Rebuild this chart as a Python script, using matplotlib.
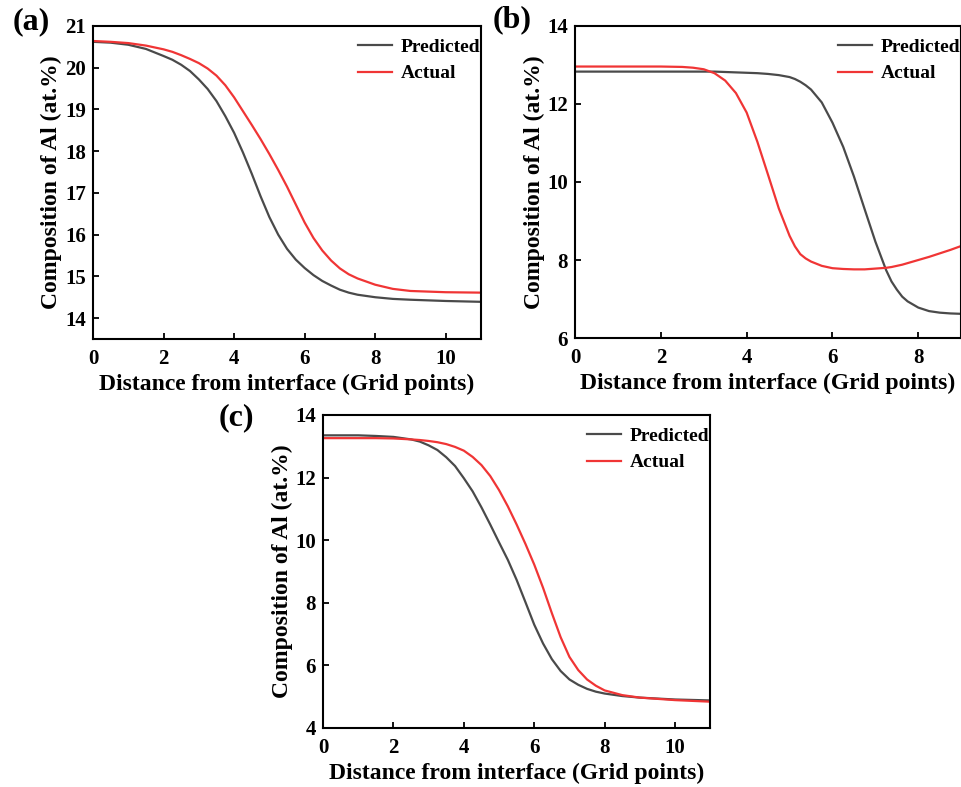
import matplotlib.pyplot as plt

plt.rcParams['font.family'] = ['Liberation Serif', 'DejaVu Serif']
plt.rcParams['font.weight'] = 'bold'

# panel (a)
xA = [0, 0.5, 1, 1.5, 2, 2.25, 2.5, 2.75, 3, 3.25, 3.5, 3.75, 4, 4.25, 4.5, 4.75, 5, 5.25, 5.5,
      5.75, 6, 6.25, 6.5, 6.75, 7, 7.25, 7.5, 8, 8.5, 9, 10, 11]
predA = [20.62, 20.6, 20.55, 20.45, 20.28, 20.19, 20.07, 19.92, 19.72, 19.49, 19.2, 18.84, 18.44,
         17.97, 17.46, 16.92, 16.42, 16.0, 15.66, 15.4, 15.2, 15.03, 14.89, 14.78, 14.68, 14.61,
         14.56, 14.5, 14.46, 14.44, 14.41, 14.39]
actA = [20.64, 20.62, 20.59, 20.53, 20.44, 20.38, 20.3, 20.21, 20.11, 19.98, 19.81, 19.58, 19.29,
        18.96, 18.63, 18.29, 17.93, 17.55, 17.15, 16.72, 16.29, 15.92, 15.62, 15.38, 15.19, 15.05,
        14.95, 14.8, 14.7, 14.65, 14.62, 14.61]

# panel (b)
xB = [0, 0.5, 1, 1.5, 2, 2.5, 2.75, 3, 3.25, 3.5, 3.75, 4, 4.25, 4.5, 4.75, 5, 5.125, 5.25, 5.375,
      5.5, 5.75, 6, 6.25, 6.5, 6.75, 7, 7.25, 7.375, 7.5, 7.625, 7.75, 8, 8.25, 8.5, 8.75, 9]
predB = [12.83, 12.83, 12.83, 12.83, 12.83, 12.83, 12.83, 12.83, 12.83, 12.82, 12.81, 12.8, 12.79,
         12.77, 12.74, 12.69, 12.64, 12.57, 12.48, 12.37, 12.04, 11.52, 10.9, 10.14, 9.3, 8.47,
         7.74, 7.45, 7.24, 7.06, 6.94, 6.78, 6.69, 6.65, 6.63, 6.62]
actB = [12.96, 12.96, 12.96, 12.96, 12.96, 12.95, 12.93, 12.89, 12.79, 12.6, 12.28, 11.78, 11.03,
        10.18, 9.32, 8.62, 8.35, 8.15, 8.04, 7.96, 7.85, 7.79, 7.77, 7.76, 7.76, 7.78, 7.8, 7.82,
        7.85, 7.88, 7.92, 8.0, 8.08, 8.17, 8.26, 8.36]

# panel (c)
xC = [0, 0.5, 1, 1.5, 2, 2.5, 2.75, 3, 3.25, 3.5, 3.75, 4, 4.25, 4.5, 4.75, 5, 5.25, 5.5, 5.75,
      6, 6.25, 6.5, 6.75, 7, 7.25, 7.5, 7.75, 8, 8.5, 9, 10, 11]
predC = [13.35, 13.35, 13.35, 13.33, 13.3, 13.22, 13.15, 13.03, 12.88, 12.65, 12.37, 11.98, 11.56,
         11.05, 10.5, 9.93, 9.37, 8.73, 8.02, 7.3, 6.7, 6.2, 5.82, 5.55, 5.38, 5.25, 5.16, 5.1,
         5.02, 4.97, 4.91, 4.88]
actC = [13.26, 13.26, 13.26, 13.26, 13.25, 13.22, 13.2, 13.17, 13.13, 13.07, 12.98, 12.86, 12.66,
        12.4, 12.05, 11.6, 11.08, 10.5, 9.88, 9.22, 8.48, 7.67, 6.9, 6.27, 5.85, 5.55, 5.35, 5.2,
        5.05, 4.97, 4.89, 4.84]

panels = [
    ('(a)', xA, predA, actA, (0, 11), (13.5, 21), [0, 2, 4, 6, 8, 10], [14, 15, 16, 17, 18, 19, 20, 21],
     [0.0967, 0.5693, 0.4033, 0.3977], (-0.206, 1.013)),
    ('(b)', xB, predB, actB, (0, 9), (6, 14), [0, 2, 4, 6, 8], [6, 8, 10, 12, 14],
     [0.5977, 0.5705, 0.4015, 0.3965], (-0.212, 1.02)),
    ('(c)', xC, predC, actC, (0, 11), (4, 14), [0, 2, 4, 6, 8, 10], [4, 6, 8, 10, 12, 14],
     [0.3358, 0.075, 0.4025, 0.3977], (-0.27, 0.99)),
]

fig = plt.figure(figsize=(9.62, 7.87), dpi=100)

for tag, x, pred, act, xl, yl, xt, yt, rect, tagpos in panels:
    ax = fig.add_axes(rect)
    ax.plot(x, pred, color='#4a4a4a', lw=1.6, label='Predicted')
    ax.plot(x, act, color='#f03535', lw=1.6, label='Actual')
    ax.set_xlim(*xl)
    ax.set_ylim(*yl)
    ax.set_xticks(xt)
    ax.set_yticks(yt)
    ax.tick_params(direction='in', labelsize=15, length=4, width=1.3)
    ax.tick_params(axis='x', pad=7)
    ax.tick_params(axis='y', pad=5)
    for s in ax.spines.values():
        s.set_linewidth(1.5)
    ax.set_xlabel('Distance from interface (Grid points)', fontsize=17, fontweight='bold', labelpad=4)
    ax.set_ylabel('Composition of Al (at.%)', fontsize=17, fontweight='bold', labelpad=2)
    ax.legend(loc='upper right', bbox_to_anchor=(1.018, 0.985), frameon=False, fontsize=14,
              handlelength=1.75, borderaxespad=0, handletextpad=0.45, labelspacing=0.45)
    ax.text(tagpos[0], tagpos[1], tag, transform=ax.transAxes, fontsize=23, fontweight='bold',
            ha='left', va='center')

plt.savefig('out.png', dpi=100)
